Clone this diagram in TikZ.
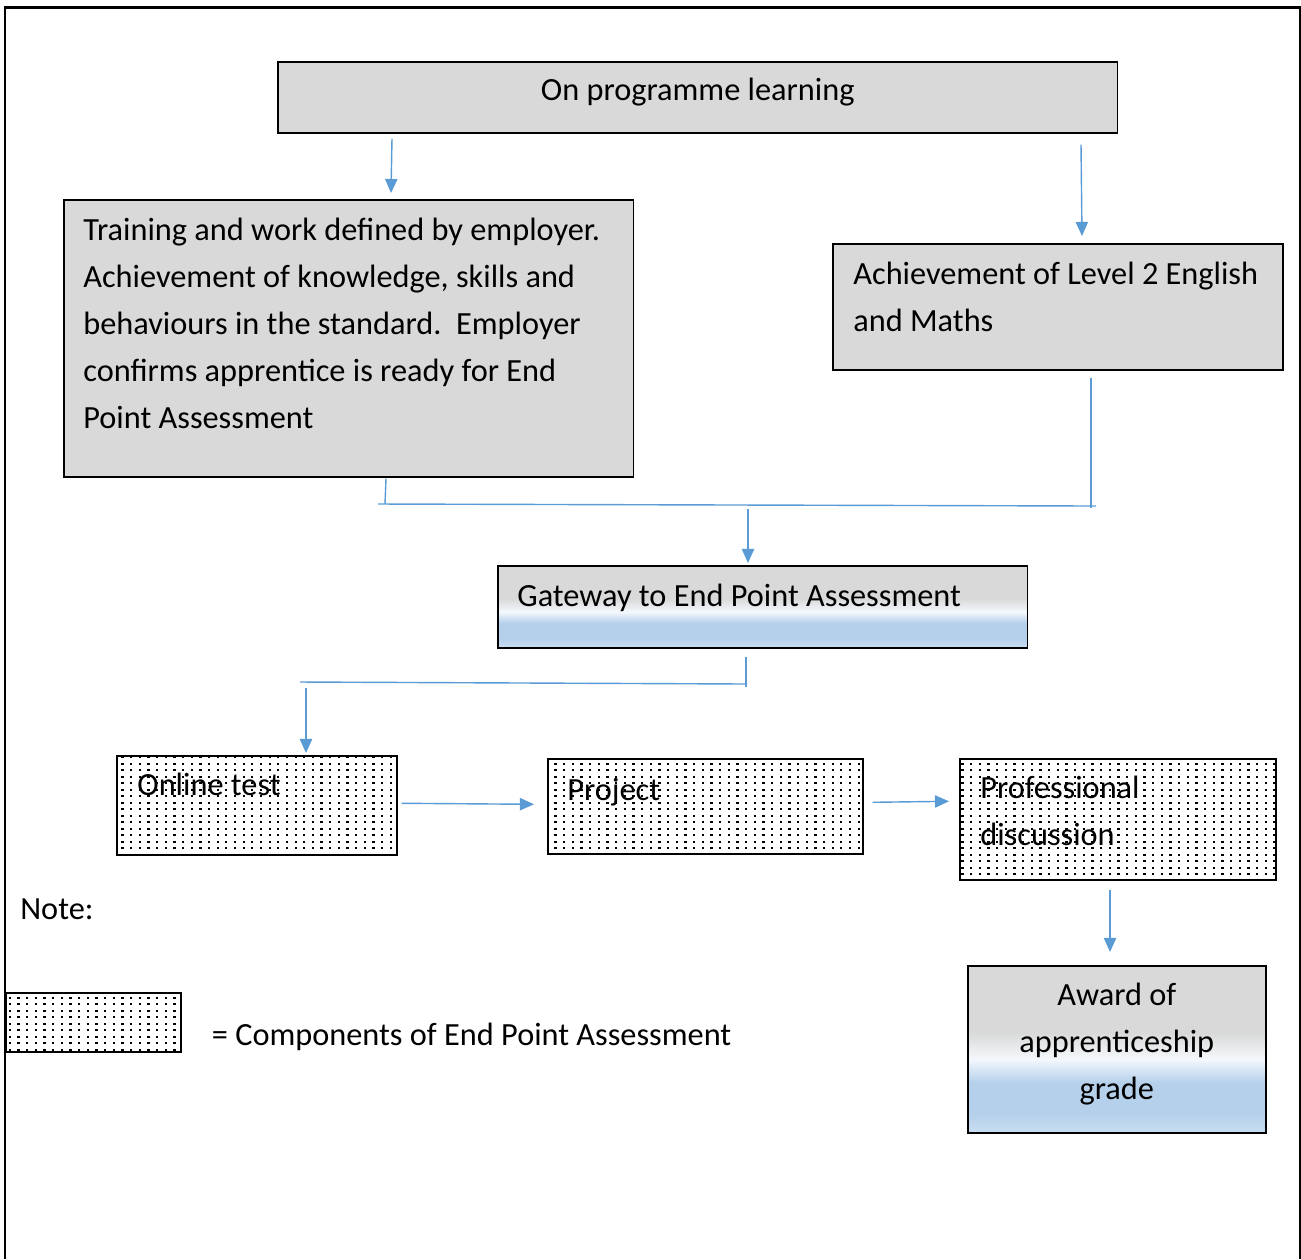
\documentclass[tikz,border=0pt]{standalone}
\usepackage{fontspec}
\setmainfont{Carlito}
\usetikzlibrary{calc,patterns,arrows.meta,positioning}

\definecolor{boxgrey}{HTML}{D9D9D9}
\definecolor{linkblue}{HTML}{5B9BD5}
\definecolor{shadeblue}{HTML}{B5D0EB}
\definecolor{shadelight}{HTML}{C9DDF0}
\definecolor{shadewhite}{HTML}{F4F8FC}

% dotted fill of the assessment components
\pgfdeclarepatternformonly{epadots}{\pgfpoint{-1pt}{-1pt}}{\pgfpoint{6pt}{5pt}}{\pgfpoint{4.93pt}{3.7pt}}{%
  \pgfpathrectangle{\pgfpointorigin}{\pgfpoint{1.3pt}{1.3pt}}%
  \pgfusepath{fill}}

% grey to blue fill of gateway and award
\pgfdeclareverticalshading{epashade}{100bp}{color(0bp)=(shadelight); color(25bp)=(shadelight);
  color(31bp)=(shadeblue); color(40bp)=(shadeblue); color(47bp)=(shadewhite);
  color(55bp)=(boxgrey); color(100bp)=(boxgrey)}

\begin{document}
\begin{tikzpicture}[x=0.02cm, y=-0.02cm,
    box/.style={draw, line width=0.9pt, inner sep=0, anchor=north west},
    grey/.style={box, fill=boxgrey},
    shade/.style={box, shading=epashade},
    epa/.style={box, pattern=epadots},
    txt/.style={inner sep=0, font=\fontsize{18.4}{26.65}\selectfont},
    link/.style={linkblue, line width=0.8pt},
    >={Triangle[length=8pt,width=7pt]}]
    \useasboundingbox (0,0) rectangle (1301,1259);
    \draw[line width=1.7pt] (5,1259) -- (5,7) -- (1300,7) -- (1300,1259);

    \node[grey,minimum width=16.8cm,minimum height=1.42cm] (prog) at (277,61) {};
    \node[grey,minimum width=11.4cm,minimum height=5.54cm] (train) at (63,199) {};
    \node[grey,minimum width=9cm,minimum height=2.52cm] (eng) at (832,243) {};
    \node[shade,minimum width=10.6cm,minimum height=1.64cm] (gate) at (497,565) {};
    \node[epa,minimum width=5.6cm,minimum height=1.98cm] (test) at (116,755) {};
    \node[epa,minimum width=6.3cm,minimum height=1.9cm] (proj) at (547,758) {};
    \node[epa,minimum width=6.32cm,minimum height=2.42cm] (disc) at (959,758) {};
    \node[shade,minimum width=5.96cm,minimum height=3.34cm] (award) at (967,965) {};
    \node[epa,minimum width=3.5cm,minimum height=1.18cm] (key) at (5,992) {};

    % multi-line texts sit on the baseline of their last line
    \node[txt,anchor=base] (prog-t) at ($(prog.north)+(0,39)$) {On programme learning};
    \node[txt,anchor=base west,align=left] (train-t) at ($(train.north west)+(20,229)$)
      {Training and work defined by employer.\\Achievement of knowledge, skills and\\
       behaviours in the standard.\ \ Employer\\confirms apprentice is ready for End\\Point Assessment};
    \node[txt,anchor=base west,align=left] (eng-t) at ($(eng.north west)+(21,88)$)
      {Achievement of Level 2 English\\and Maths};
    \node[txt,anchor=base west] (gate-t) at ($(gate.north west)+(20,41)$) {Gateway to End Point Assessment};
    \node[txt,anchor=base west] (test-t) at ($(test.north west)+(21,40)$) {Online test};
    \node[txt,anchor=base west] (proj-t) at ($(proj.north west)+(20,42)$) {Project};
    \node[txt,anchor=base west,align=left] (disc-t) at ($(disc.north west)+(21,87)$) {Professional\\discussion};
    \node[txt,anchor=base,align=center] (award-t) at ($(award.north)+(0,134)$) {Award of\\apprenticeship\\grade};
    \node[txt,anchor=base west] (note) at (20,919) {Note:};
    \node[txt,anchor=base west] (key-t) at ($(key.east)+(30,23)$) {= Components of End Point Assessment};

    \coordinate (busL) at (378,504);
    \coordinate (busR) at (1096,506);
    \coordinate (splitL) at (300,682);
    \coordinate (splitR) at (747,684);

    \draw[link,->] ($(prog.south west)+(115,5)$) -- ($(train.north west)+(328,-6)$);
    \draw[link,->] ($(prog.south west)+(804,11)$) -- ($(eng.north west)+(250,-7)$);
    \draw[link] ($(train.south west)+(323,1)$) -- ($(busL)+(7,0)$);
    \draw[link] ($(eng.south west)+(259,7)$) -- ($(busR)+(-5,2)$);
    \draw[link] (busL) -- (busR);
    \draw[link,->] ($(gate.north west)+(251,-56)$) -- ($(gate.north west)+(251,-2)$);
    \draw[link] ($(gate.south west)+(249,8)$) -- ($(gate.south west)+(249,38)$);
    \draw[link] (splitL) -- (splitR);
    \draw[link,->] ($(splitL)+(6,6)$) -- ($(test.north west)+(190,-2)$);
    \draw[link,->] ($(test.east)+(4,-2)$) -- ($(proj.west)+(-13,-2)$);
    \draw[link,->] ($(proj.east)+(9,-4)$) -- ($(disc.west)+(-10,-18)$);
    \draw[link,->] ($(disc.south west)+(151,9)$) -- ($(award.north west)+(143,-13)$);
\end{tikzpicture}
\end{document}
